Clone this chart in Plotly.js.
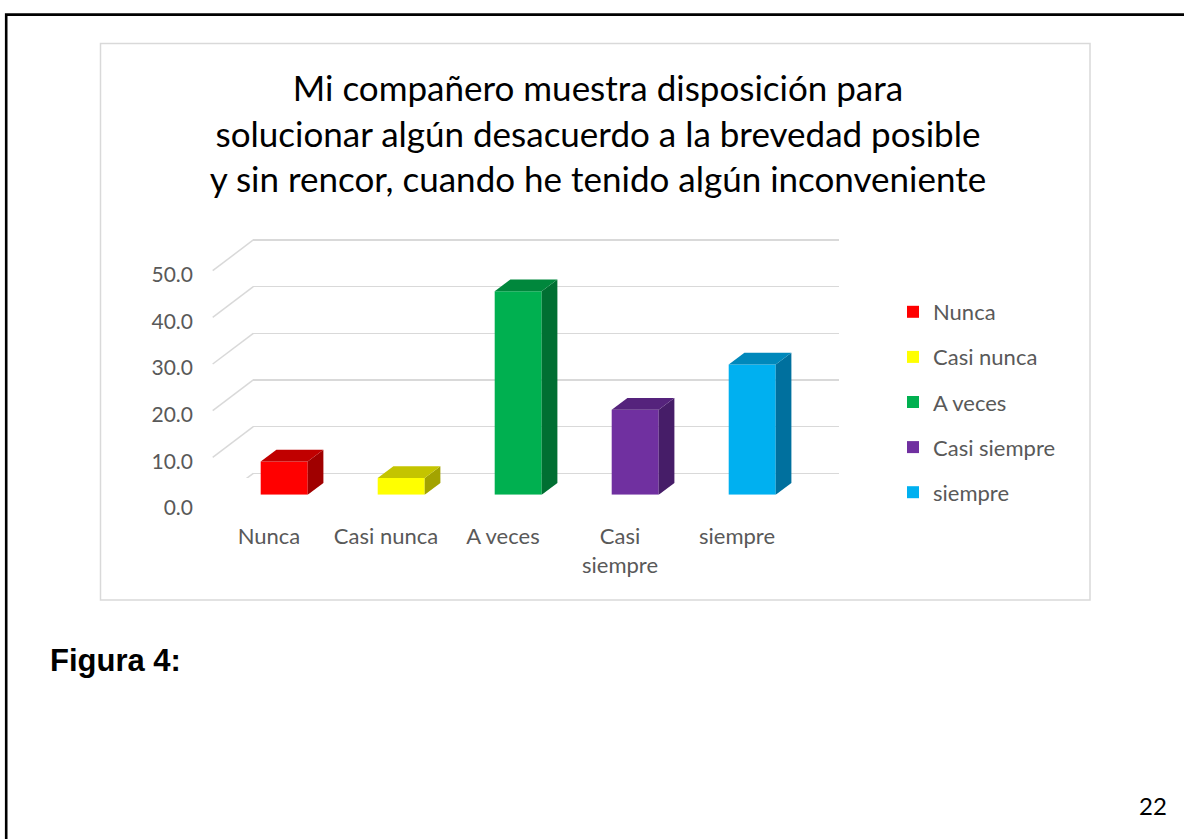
<!DOCTYPE html>
<html>
<head>
<meta charset="utf-8">
<script src="https://cdn.plot.ly/plotly-3.0.1.min.js"></script>
<style>
  html, body { margin: 0; padding: 0; background: #ffffff; }
  #chart { width: 1184px; height: 839px; }
</style>
</head>
<body>
<div id="chart"></div>
<script>
// ---------------- data ----------------
const categories = ["Nunca", "Casi nunca", "A veces", "Casi siempre", "siempre"];
const axisLabels = ["Nunca", "Casi nunca", "A veces", "Casi<br>siempre", "siempre"];
const values = [7.1, 3.6, 43.6, 18.2, 27.9];
const yTicks = [0, 10, 20, 30, 40, 50];
const yTickText = ["0.0", "10.0", "20.0", "30.0", "40.0", "50.0"];
const titleText = "Mi compañero muestra disposición para<br>solucionar algún desacuerdo a la brevedad posible<br>y sin rencor, cuando he tenido algún inconveniente";
const figureLabel = "Figura 4:";
const pageNumber = "22";

// ---------------- styles ----------------
const frontColors = ["#FF0000", "#FFFF00", "#00B050", "#7030A0", "#00B0F0"];
const topColors   = ["#C00000", "#C4C400", "#00873C", "#55237C", "#0088BB"];
const sideColors  = ["#A00000", "#A3A300", "#006F32", "#461D68", "#00709E"];
const FONT = "Lato, Calibri, 'Open Sans', sans-serif";
const GRID = "#D9D9D9";

// ---------------- geometry (pixels) ----------------
const W = 1184, H = 839;
const px = x => x / W;
const py = y => 1 - y / H;
const CAT_STEP = 117;        // px between categories
const BAR_X0 = 284.2;        // centre of first bar front face
const BAR_W_PX = 47;
const BAR_BASE = 494.7;      // bar front baseline
const UNIT = 4.667;          // px per value unit
const LABEL_X0 = 269;        // centre of first category label (front edge)
const FRONT_BASE = 504;      // front edge, value 0
const LABEL_BASE = 508;      // value-label baseline position
const BACK_BASE = 473.3;     // back wall, value 0
const WALL_LEFT = 253.3, WALL_RIGHT = 839;
const DIAG_LEFT = 212.7;
const BAR_DEPTH = { dx: 15.7, dy: 11.7 };
const Y_LABEL_POS = 193;

const n = categories.length;
const idx = categories.map((c, i) => i);

// ---------------- traces ----------------
const traces = [];
// back wall (gridlines) subplot x/y
traces.push({ type: "scatter", x: [0.5], y: [0], xaxis: "x", yaxis: "y", mode: "markers",
  marker: { opacity: 0 }, showlegend: false, hoverinfo: "skip" });
// bars subplot x2/y2
categories.forEach((c, i) => {
  traces.push({
    type: "bar", name: c, x: [idx[i]], y: [values[i]], xaxis: "x2", yaxis: "y2",
    width: BAR_W_PX / CAT_STEP, legendgroup: c,
    marker: { color: frontColors[i], line: { width: 0 } },
    hovertemplate: c + ": %{y:.1f}<extra></extra>"
  });
});
// front labels subplot x3/y3
traces.push({ type: "scatter", x: [0], y: [0], xaxis: "x3", yaxis: "y3", mode: "markers",
  marker: { opacity: 0 }, showlegend: false, hoverinfo: "skip" });

// ---------------- shapes ----------------
const shapes = [];
// slide border
shapes.push({ type: "rect", xref: "paper", yref: "paper", x0: px(6.2), y0: py(14.6), x1: px(1200), y1: py(860),
  line: { color: "#000000", width: 2.6 }, fillcolor: "rgba(0,0,0,0)", layer: "below" });
// chart area border
shapes.push({ type: "rect", xref: "paper", yref: "paper", x0: px(100.5), y0: py(43.5), x1: px(1090), y1: py(600),
  line: { color: GRID, width: 1.5 }, fillcolor: "rgba(0,0,0,0)", layer: "below" });
// side-wall diagonals (from the back-wall gridlines to the front edge)
yTicks.forEach(v => {
  shapes.push({ type: "line", xref: "paper", xsizemode: "pixel", xanchor: px(WALL_LEFT),
    x0: -(WALL_LEFT - DIAG_LEFT), x1: 0, yref: "y", ysizemode: "pixel", yanchor: v,
    y0: -(FRONT_BASE - BACK_BASE), y1: 0, line: { color: GRID, width: 1.5 }, layer: "below" });
});
// bar top and side faces
const bw = BAR_W_PX / CAT_STEP, ddx = BAR_DEPTH.dx / CAT_STEP, ddy = BAR_DEPTH.dy / UNIT;
values.forEach((v, i) => {
  const xl = idx[i] - bw / 2, xr = idx[i] + bw / 2;
  shapes.push({ type: "path", xref: "x2", yref: "y2", layer: "above",
    path: `M${xr},0 L${xr + ddx},${ddy} L${xr + ddx},${v + ddy} L${xr},${v} Z`,
    fillcolor: sideColors[i], line: { width: 0 } });
  shapes.push({ type: "path", xref: "x2", yref: "y2", layer: "above",
    path: `M${xl},${v} L${xr},${v} L${xr + ddx},${v + ddy} L${xl + ddx},${v + ddy} Z`,
    fillcolor: topColors[i], line: { width: 0 } });
});

// ---------------- layout ----------------
const layout = {
  width: W, height: H,
  margin: { l: 0, r: 0, t: 0, b: 0, pad: 0 },
  paper_bgcolor: "#ffffff", plot_bgcolor: "rgba(0,0,0,0)",
  font: { family: FONT, color: "#595959", size: 22 },
  showlegend: true,
  barmode: "overlay",
  title: {
    text: titleText, xref: "paper", yref: "paper", x: px(598), xanchor: "center",
    y: py(101), yanchor: "middle",
    font: { family: FONT, size: 35, color: "#000000" }
  },
  xaxis: { domain: [px(WALL_LEFT), px(WALL_RIGHT)], range: [0, 1], anchor: "y",
    showgrid: false, zeroline: false, showticklabels: false, ticks: "", showline: false, fixedrange: true },
  yaxis: { domain: [py(BACK_BASE + 1 * UNIT), py(BACK_BASE - 51 * UNIT)], range: [-1, 51], anchor: "x",
    tickvals: yTicks, showgrid: true, gridcolor: GRID, gridwidth: 1.5, zeroline: false,
    showticklabels: false, ticks: "", showline: false, fixedrange: true },
  xaxis2: { domain: [px(BAR_X0 - 0.5 * CAT_STEP), px(BAR_X0 + (n - 0.5) * CAT_STEP)], range: [-0.5, n - 0.5],
    anchor: "y2", visible: false, fixedrange: true },
  yaxis2: { domain: [py(BAR_BASE), py(BAR_BASE - 55 * UNIT)], range: [0, 55], anchor: "x2",
    visible: false, fixedrange: true },
  xaxis3: { domain: [px(LABEL_X0 - 0.5 * CAT_STEP), px(LABEL_X0 + (n - 0.5) * CAT_STEP)], range: [-0.5, n - 0.5],
    anchor: "y3", tickmode: "array", tickvals: idx, ticktext: axisLabels, ticks: "",
    ticklabelstandoff: 13, showgrid: false, zeroline: false, showline: false,
    tickfont: { family: FONT, size: 22, color: "#595959" }, fixedrange: true },
  yaxis3: { domain: [py(LABEL_BASE), py(LABEL_BASE - 51 * UNIT)], range: [0, 51], anchor: "free",
    position: px(Y_LABEL_POS), tickmode: "array", tickvals: yTicks, ticktext: yTickText, ticks: "",
    showgrid: false, zeroline: false, showline: false,
    tickfont: { family: FONT, size: 21, color: "#595959" }, fixedrange: true },
  legend: {
    x: px(893), y: py(291), xanchor: "left", yanchor: "top", xref: "paper", yref: "paper",
    bgcolor: "rgba(0,0,0,0)", borderwidth: 0, traceorder: "grouped", tracegroupgap: 13.5,
    font: { family: FONT, size: 22, color: "#595959" }
  },
  shapes: shapes,
  annotations: [
    { text: "<b>" + figureLabel + "</b>", xref: "paper", yref: "paper", x: px(48), y: py(660),
      xanchor: "left", yanchor: "middle", showarrow: false,
      font: { family: "'Liberation Sans', Arial, sans-serif", size: 31, color: "#000000" } },
    { text: pageNumber, xref: "paper", yref: "paper", x: px(1153), y: py(805),
      xanchor: "center", yanchor: "middle", showarrow: false,
      font: { family: FONT, size: 24, color: "#000000" } }
  ]
};

Plotly.newPlot("chart", traces, layout, { displayModeBar: false, staticPlot: true });
</script>
</body>
</html>
